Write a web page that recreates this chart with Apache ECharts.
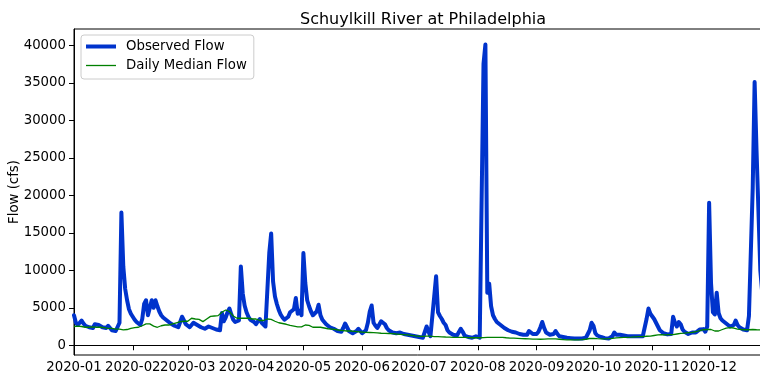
<!DOCTYPE html>
<html><head><meta charset="utf-8">
<script src="https://cdn.jsdelivr.net/npm/echarts@6/dist/echarts.min.js"></script>
<style>html,body{margin:0;padding:0;background:#fff}#c{width:760px;height:379px}</style>
</head><body><div id="c"></div>
<script>
const chartTitle = 'Schuylkill River at Philadelphia';
const yAxisName = 'Flow (cfs)';
const seriesNames = ['Observed Flow', 'Daily Median Flow'];
const startYear = 2020;

// Observed daily flow (cfs), one sub-array per month of 2020
const observedByMonth = [
  [4000,3000,2700,3000,3300,2900,2600,2500,2400,2200,2300,2800,3000,2700,2500,2400,2200,2300,2600,2400,2000,1900,1900,1850,3000,17700,10500,7500,6000,4800,4200],
  [3800,3400,3100,2900,2700,3500,5500,6000,4000,5000,6000,5000,6000,5200,4500,4000,3700,3500,3300,3100,2900,2700,2600,2500,2400,2450,3800,3700,2800],
  [2600,2400,2500,3000,2900,2700,2500,2400,2300,2200,2400,2500,2400,2300,2200,2100,1900,2000,4300,3200,3700,4400,4900,4100,3400,3100,3100,3300,10500,6900,5300],
  [4400,3800,3400,3200,3100,2800,3200,3500,3000,2900,2500,2400,12300,14900,8500,6500,5500,4700,4100,3700,3400,3300,3800,4400,4400,4800,6300,4200,4600,4000],
  [12300,8300,6000,5200,4500,4000,3800,4500,5400,4000,3400,3100,2800,2600,2400,2300,2200,2100,1900,1800,1800,2300,2900,2400,1900,1700,1600,1700,1900,2200,1900],
  [1600,1800,2000,3000,4500,5300,3000,2600,2300,2400,3200,3400,2800,2300,2000,1800,1700,1700,1600,1600,1700,1500,1500,1400,1400,1300,1300,1300,1200,1100],
  [1100,1100,1000,1000,2500,1800,1200,1300,6500,9200,4400,3900,3500,3000,2700,2000,1700,1500,1400,1300,1300,1500,2200,1800,1300,1200,1100,1000,1000,1100,1200],
  [1100,1000,1100,37500,40100,7000,8200,5200,4000,3500,3100,2900,2700,2500,2300,2100,2000,1900,1800,1700,1700,1600,1500,1500,1400,1300,1400,1900,1700,1500,1400],
  [1500,1800,2400,3100,2300,1700,1500,1400,1400,1500,1900,1500,1200,1100,1100,1000,1000,950,950,900,900,900,900,900,900,950,1000,1200,2000,3000],
  [2600,1600,1300,1200,1100,1000,950,900,900,850,1200,1700,1400,1300,1400,1300,1300,1200,1200,1200,1200,1200,1200,1200,1200,1200,1200,1300,3500,4900,4200],
  [4000,3500,3000,2500,2000,1800,1600,1500,1450,1400,1500,3800,3000,2500,3100,2800,2100,1800,1600,1500,1400,1700,1800,1700,1900,2100,1900,2150,1800,2500],
  [19000,8300,4400,4100,7000,4300,3600,3300,3100,2900,2700,2500,2400,2700,3300,2700,2400,2200,2100,2000,2000,3900,4000,21000,35100,26000,18000,10000,7000,5500,4500]
];

// Daily median flow (cfs), one sub-array per month
const medianByMonth = [
  [2500,2450,2550,2600,2500,2450,2400,2350,2400,2500,2450,2350,2400,2500,2400,2300,2350,2300,2250,2300,2250,2200,2150,2100,2150,2100,2050,2000,2100,2150,2250],
  [2300,2350,2300,2400,2500,2600,2700,2850,3000,2850,2700,2550,2450,2400,2500,2600,2650,2700,2650,2700,2800,2850,2900,3000,3100,3150,3250,3200,3000],
  [3200,3450,3600,3550,3500,3600,3450,3300,3150,3300,3500,3700,3850,4000,3900,3800,3950,4200,4400,4550,4700,4750,4500,4200,3900,3700,3600,3650,3600,3550,3600],
  [3650,3600,3550,3500,3600,3500,3400,3300,3250,3300,3400,3500,3550,3450,3350,3200,3100,3000,2950,2900,2850,2800,2700,2650,2600,2550,2500,2450,2400,2450],
  [2550,2700,2850,2650,2500,2400,2450,2400,2350,2400,2350,2300,2250,2200,2200,2150,2100,2100,2050,2000,2000,1950,1950,1900,1950,1900,1850,1850,1800,1800,1780],
  [1760,1750,1720,1700,1700,1680,1680,1650,1650,1620,1600,1600,1580,1580,1570,1560,1550,1520,1500,1480,1460,1450,1420,1400,1380,1350,1320,1280,1250,1220],
  [1200,1180,1180,1200,1220,1240,1220,1180,1160,1150,1150,1140,1130,1120,1100,1100,1080,1070,1060,1060,1050,1050,1040,1040,1050,1040,1020,1000,1000,990,1000],
  [1000,1000,1010,1020,1030,1040,1050,1060,1050,1040,1030,1050,1060,1050,1030,1000,980,960,950,950,940,920,900,890,880,870,860,850,840,830,820],
  [810,800,800,800,810,820,840,850,850,850,840,820,800,780,760,740,720,710,710,710,720,710,710,720,740,760,800,850,900,930],
  [920,900,880,870,860,850,850,860,880,900,920,950,980,1000,1020,1040,1050,1060,1050,1060,1080,1100,1120,1130,1140,1150,1160,1180,1200,1200,1220],
  [1250,1300,1350,1380,1400,1420,1400,1380,1400,1420,1400,1420,1450,1500,1550,1580,1600,1620,1650,1680,1700,1720,1750,1800,1900,1950,2000,2070,2050,2100],
  [2150,2100,2000,1900,1850,1900,2000,2100,2200,2270,2300,2350,2350,2300,2200,2150,2100,2100,2080,2070,2050,2070,2080,2100,2080,2070,2070,2060,2070,2080,2060]
];

const yTicks = [0,5000,10000,15000,20000,25000,30000,35000,40000];

const observedFlow = observedByMonth.flat();
const medianFlow = medianByMonth.flat();

// category labels: one per day of 2020
const dates = [];
observedByMonth.forEach((m, mi) => {
  m.forEach((_, di) => {
    dates.push(startYear + '-' + String(mi + 1).padStart(2, '0') + '-' + String(di + 1).padStart(2, '0'));
  });
});

const font = 'DejaVu Sans';
const isMonthStart = (i, v) => v.slice(8) === '01';

const chart = echarts.init(document.getElementById('c'), null, {renderer: 'canvas'});
chart.setOption({
  animation: false,
  backgroundColor: '#fff',
  title: {
    text: chartTitle, left: 295, top: 7,
    textStyle: {fontFamily: font, fontSize: 16, fontWeight: 'normal', color: '#000'}
  },
  grid: {left: 74, top: 29, width: 692, height: 326, show: true, borderColor: '#000', borderWidth: 1,
         containLabel: false, outerBoundsMode: 'none'},
  legend: {
    orient: 'vertical', left: 81, top: 35, padding: [5, 7, 7, 5],
    itemWidth: 30, itemHeight: 14, itemGap: 6,
    backgroundColor: 'rgba(255,255,255,0.8)', borderColor: '#cccccc', borderWidth: 1, borderRadius: 3,
    textStyle: {fontFamily: font, fontSize: 13.3, color: '#000', padding: [0, 0, 0, 5]},
    data: [
      {name: seriesNames[0], icon: 'path://M0,0H300V40H0Z', itemStyle: {color: '#0033cc'}},
      {name: seriesNames[1], icon: 'path://M0,0H300V13H0Z', itemStyle: {color: '#008000'}}
    ]
  },
  xAxis: {
    type: 'category', data: dates, boundaryGap: false,
    axisLine: {lineStyle: {color: '#000', width: 1}},
    axisTick: {interval: isMonthStart, length: 5, lineStyle: {color: '#000'}},
    axisLabel: {interval: isMonthStart, formatter: v => v.slice(0, 7), color: '#000', fontFamily: font, fontSize: 13.3, margin: 6},
    splitLine: {show: false}
  },
  yAxis: {
    type: 'value', min: -1300, max: 42170,
    name: yAxisName, nameLocation: 'middle', nameGap: 53, nameMoveOverlap: false,
    nameTextStyle: {fontFamily: font, fontSize: 13.3, color: '#000'},
    axisLine: {show: true, lineStyle: {color: '#000', width: 1}},
    axisTick: {show: true, customValues: yTicks, length: 5, lineStyle: {color: '#000'}},
    axisLabel: {customValues: yTicks, formatter: v => String(v), color: '#000', fontFamily: font, fontSize: 13.3, margin: 8},
    splitLine: {show: false}
  },
  series: [
    {name: seriesNames[0], type: 'line', data: observedFlow, symbol: 'none', showSymbol: false,
     lineStyle: {color: '#0033cc', width: 4, cap: 'round', join: 'round'}, itemStyle: {color: '#0033cc'}},
    {name: seriesNames[1], type: 'line', data: medianFlow, symbol: 'none', showSymbol: false,
     lineStyle: {color: '#008000', width: 1.3}, itemStyle: {color: '#008000'}}
  ]
});
</script>
</body></html>
